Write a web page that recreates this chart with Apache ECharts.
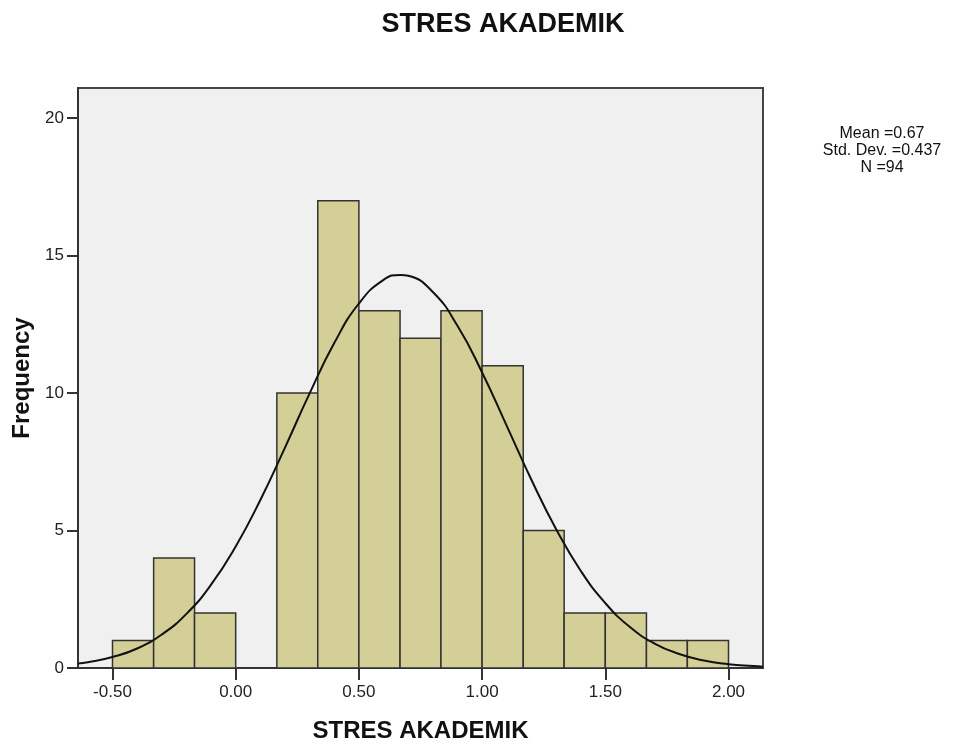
<!DOCTYPE html>
<html>
<head>
<meta charset="utf-8">
<title>STRES AKADEMIK</title>
<script src="https://cdn.jsdelivr.net/npm/echarts/dist/echarts.min.js"></script>
<style>
html, body { margin: 0; padding: 0; background: #fff; }
#chart { width: 953px; height: 744px; }
</style>
</head>
<body>
<div id="chart"></div>
<script>
// histogram bins (lower / upper edge) and counts
var binLow  = [-0.500, -0.333, -0.167, 0.000, 0.167, 0.333, 0.500, 0.667, 0.833, 1.000, 1.167, 1.333, 1.500, 1.667, 1.833];
var binHigh = [-0.333, -0.167, 0.000, 0.167, 0.333, 0.500, 0.667, 0.833, 1.000, 1.167, 1.333, 1.500, 1.667, 1.833, 2.000];
var counts  = [1, 4, 2, 0, 10, 17, 13, 12, 13, 11, 5, 2, 2, 1, 1];

// normal curve
var curveX = [-0.64, -0.6, -0.5, -0.4, -0.3, -0.2, -0.1, 0.0, 0.1, 0.2, 0.3, 0.4, 0.5, 0.6, 0.67, 0.7, 0.8, 0.9, 1.0, 1.1, 1.2, 1.3, 1.4, 1.5, 1.6, 1.7, 1.8, 1.9, 2.0, 2.1, 2.14];
var curveY = [0.16, 0.21, 0.40, 0.71, 1.22, 1.97, 3.03, 4.42, 6.11, 8.02, 9.99, 11.82, 13.26, 14.12, 14.30, 14.27, 13.68, 12.45, 10.75, 8.81, 6.85, 5.06, 3.54, 2.36, 1.49, 0.89, 0.51, 0.27, 0.14, 0.07, 0.05];

var xTicks = [-0.5, 0, 0.5, 1.0, 1.5, 2.0];
var yTicks = [0, 5, 10, 15, 20];
var statLines = ['Mean =0.67', 'Std. Dev. =0.437', 'N =94'];

var barData = [];
for (var i = 0; i < counts.length; i++) {
    barData.push([binLow[i], binHigh[i], counts[i]]);
}
var lineData = [];
for (var j = 0; j < curveX.length; j++) {
    lineData.push([curveX[j], curveY[j]]);
}

var font = '"Liberation Sans", Arial, sans-serif';
var chart = echarts.init(document.getElementById('chart'));

chart.setOption({
    animation: false,
    textStyle: { fontFamily: font },
    title: {
        text: 'STRES AKADEMIK',
        left: 498,
        top: 6,
        textAlign: 'center',
        textStyle: { fontSize: 27, fontWeight: 'bold', color: '#111', fontFamily: font }
    },
    grid: {
        left: 78, right: 190, top: 88, bottom: 76,
        outerBoundsMode: 'none',
        containLabel: false,
        show: true,
        backgroundColor: '#f0f0f0',
        borderColor: '#444',
        borderWidth: 2
    },
    xAxis: {
        type: 'value',
        min: -0.64,
        max: 2.14,
        name: 'STRES AKADEMIK',
        nameLocation: 'middle',
        nameGap: 51,
        nameTextStyle: { fontSize: 24, fontWeight: 'bold', color: '#111', fontFamily: font },
        splitLine: { show: false },
        axisLine: { onZero: false, lineStyle: { color: '#333', width: 2 } },
        axisTick: { show: true, length: 12, customValues: xTicks, lineStyle: { color: '#333', width: 2 } },
        axisLabel: {
            customValues: xTicks,
            margin: 16,
            fontSize: 17,
            color: '#222',
            formatter: function (v) { return v.toFixed(2); }
        }
    },
    yAxis: {
        type: 'value',
        min: 0,
        max: 21.1,
        name: 'Frequency',
        nameLocation: 'middle',
        nameRotate: 90,
        nameGap: 37,
        nameTextStyle: { fontSize: 24, fontWeight: 'bold', color: '#111', fontFamily: font },
        splitLine: { show: false },
        axisLine: { show: true, onZero: false, lineStyle: { color: '#333', width: 2 } },
        axisTick: { show: true, length: 11, customValues: yTicks, lineStyle: { color: '#333', width: 2 } },
        axisLabel: { customValues: yTicks, margin: 14, fontSize: 17, color: '#222' }
    },
    graphic: [{
        type: 'text',
        x: 882,
        y: 125,
        style: {
            text: statLines.join('\n'),
            fontSize: 16,
            lineHeight: 17,
            fill: '#111',
            align: 'center',
            verticalAlign: 'top',
            fontFamily: font
        }
    }],
    series: [{
        type: 'custom',
        data: barData,
        encode: { x: [0, 1], y: 2 },
        renderItem: function (params, api) {
            if (api.value(2) <= 0) return;
            var p0 = api.coord([api.value(0), api.value(2)]);
            var p1 = api.coord([api.value(1), 0]);
            return {
                type: 'rect',
                shape: { x: p0[0], y: p0[1], width: p1[0] - p0[0], height: p1[1] - p0[1] },
                style: { fill: '#d3cf97', stroke: '#333', lineWidth: 1.5 }
            };
        }
    }, {
        type: 'line',
        data: lineData,
        smooth: true,
        showSymbol: false,
        lineStyle: { color: '#111', width: 2 },
        z: 5
    }]
});
</script>
</body>
</html>
